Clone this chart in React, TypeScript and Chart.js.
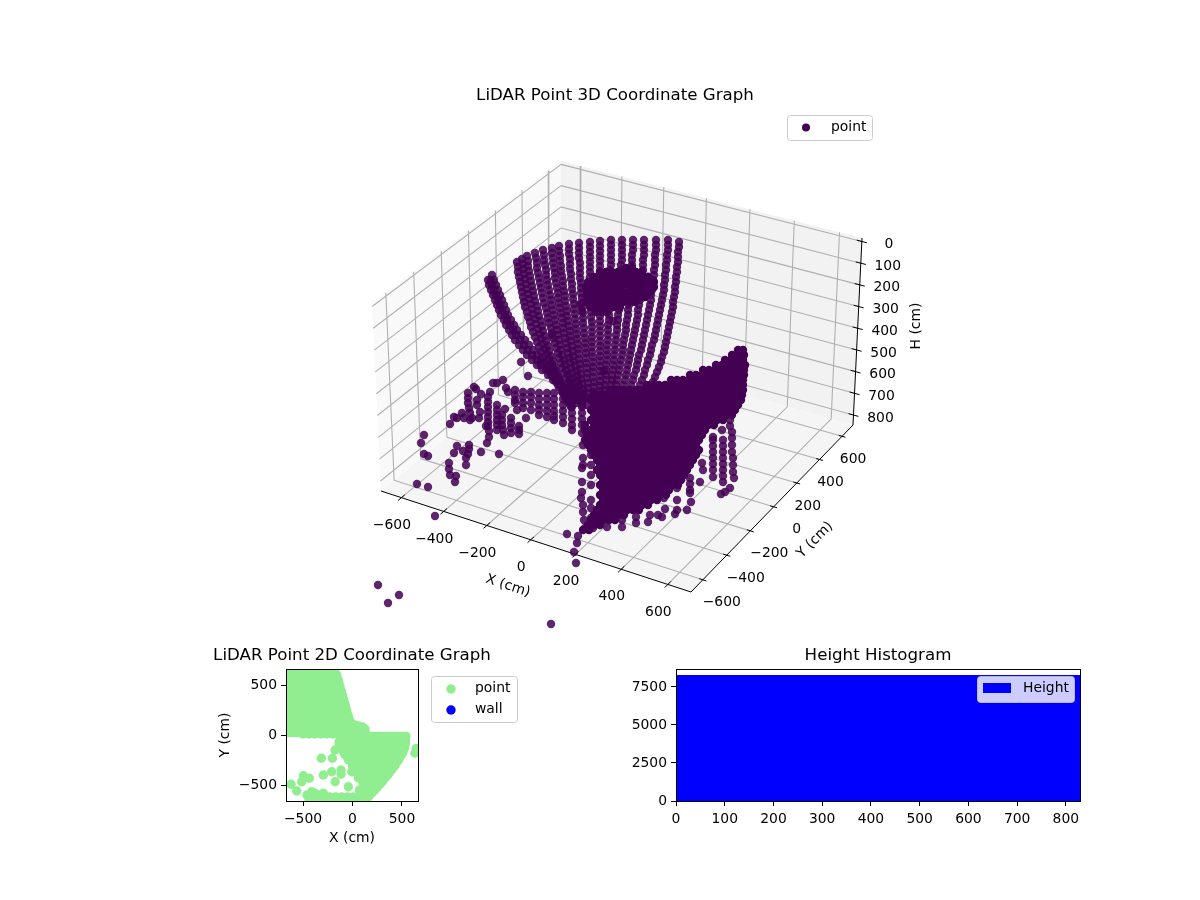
import React, { useEffect, useRef } from "react";
import { Chart, registerables } from "chart.js";

Chart.register(...registerables);

/* Chart.js has no 3D scale. The box, grid and ticks below are projected from their X / Y / H values.
   The 3D scatter marks can only be read off the picture as projected positions, so they are stored
   as projected values on the flat "view plane" scale (viewU, viewV). */

const FONT = "'DejaVu Sans'";
const PURPLE = "#440154";

const titleMain = "LiDAR Point 3D Coordinate Graph";
const title2D = "LiDAR Point 2D Coordinate Graph";
const titleHist = "Height Histogram";

const tickXY3D = [-600, -400, -200, 0, 200, 400, 600];
const tickH3D = [0, 100, 200, 300, 400, 500, 600, 700, 800];
const limXY = [-698, 698];
const limH = [-16, 846];

// projected readings: [first row, u at each following row]; rows are 5 apart in v
const fanArcs: [number, number[]][] = [
  [242, [679,679,678,678,678,677,677,676,676,675,675,674,673,673,672,671,670,669,668,667,666,665,664,662,661,659,657,655,653,651,649,647]],
  [240, [668,668,668,667,667,666,666,665,665,664,664,663,662,661,660,659,658,657,656,655,654,652,651,650,648,647,645,644,642,640,638,636]],
  [240, [656,656,656,655,655,655,654,654,653,653,652,651,651,650,649,648,647,646,645,644,643,642,641,639,638,637,636,634,633,631,629,627]],
  [240, [644,644,644,644,643,643,643,642,642,641,641,640,640,639,638,638,637,636,635,634,633,632,631,630,629,628,627,626,625,623,622,620]],
  [240, [633,633,633,632,632,632,632,631,631,631,630,630,629,629,628,628,627,626,626,625,624,623,623,622,621,620,619,618,617,616,615,613]],
  [240, [622,622,622,622,622,621,621,621,621,620,620,620,619,619,619,618,618,617,617,616,616,615,615,614,614,613,613,612,612,611,610,610]],
  [240, [611,611,611,611,611,611,610,610,610,610,610,610,609,609,609,609,609,608,608,608,608,607,607,607,607,606,606,606,606,605,605,605]],
  [241, [600,600,600,600,600,600,600,600,600,600,600,600,600,600,600,600,600,600,600,600,600,600,600,600,600,600,600,600,600,600,600,600]],
  [242, [590,590,590,590,590,590,590,590,591,591,591,591,591,591,591,591,592,592,592,592,592,592,592,593,593,593,593,593,594,594,594,594]],
  [243, [579,579,579,579,580,580,580,580,581,581,581,582,582,582,583,583,583,584,584,585,585,585,586,586,586,587,587,587,588,588,589,589]],
  [244, [569,569,569,570,570,570,571,571,572,572,573,573,574,574,575,575,576,576,577,577,578,578,579,579,580,580,581,581,582,583,583,584]],
  [246, [559,559,560,560,561,561,562,563,563,564,565,565,566,567,567,568,569,570,570,571,572,573,573,574,575,576,577,578,579,580,581]],
  [248, [552,552,553,553,554,555,555,556,557,558,558,559,560,561,562,563,563,564,565,566,567,568,569,570,571,572,573,574,575,576,578]],
  [250, [543,544,544,545,546,546,547,548,549,550,551,552,553,554,555,556,557,558,559,560,561,562,564,565,566,568,570,571,573,575,577]],
  [253, [535,536,537,537,538,539,540,541,542,543,544,546,547,548,549,551,552,553,555,556,558,559,561,562,564,566,568,570,572,574,576]],
  [256, [527,528,528,529,530,531,532,533,534,535,537,538,539,541,542,543,545,546,548,549,551,553,554,556,558,560,562,564,566,569,571]],
  [259, [522,523,523,524,525,526,527,528,529,531,532,533,535,536,538,540,541,543,545,547,549,552,554,556,559,561,564,567,570]],
  [262, [517,518,518,519,520,521,522,523,524,525,527,528,530,531,533,535,537,539,541,543,545,548,550,553,556,559,562,565,568,571]],
  [280, [488,489,491,493,495,497,499,501,504,506,509,512,515,519,523,527,532,537,542,548,553,558,564,570,576,582]],
  [280, [491,492,494,496,498,500,502,505,507,510,513,516,520,524,528,532,537,541,546,551,556,561,567,573,579]],
  [275, [492,494,496,498,500,502,504,506,508,511,514,517,521,525,529,533,537,541,545,549,553,558,563,569,575,581,587]],
];

const blobRows: [number, number[]][] = [
  [268, [626,632]],
  [272, [600,606,612,618,624,630,636,642]],
  [277, [594,600,606,612,618,624,630,636,642,648]],
  [282, [588,594,600,606,612,618,624,630,636,642,648,654]],
  [287, [586,592,598,604,610,616,622,630,636,642,648,654]],
  [292, [587,593,599,605,611,617,623,629,635,641,647,650]],
  [297, [587,593,599,605,611,617,623,629,635,641,645]],
  [302, [587,593,599,605,611,617,623,629,635]],
  [307, [590,596,602,608,614,620]],
  [312, [596,602,607]],
];

const surfaceRows: [number, number[]][] = [
  [350, [738,743]],
  [355, [732,738,744]],
  [360, [725,731,737,743]],
  [365, [716,722,728,734,740,745]],
  [370, [703,709,715,721,727,733,739,744]],
  [375, [690,696,702,708,714,720,726,732,738,744]],
  [380, [671,677,683,689,695,701,707,713,719,725,731,737,743]],
  [385, [647,653,659,665,671,677,683,689,695,701,707,713,719,725,731,737,743]],
  [390, [612,618,624,630,636,642,648,654,660,666,672,678,684,690,696,702,708,714,720,726,732,738,743]],
  [395, [594,600,606,612,618,624,630,636,642,648,654,660,666,672,678,684,690,696,702,708,714,720,726,732,738,742]],
  [400, [591,597,603,609,615,621,627,633,639,645,651,657,663,669,675,681,687,693,699,705,711,717,723,729,735,741]],
  [405, [594,600,606,612,618,624,630,636,642,648,654,660,666,672,678,684,690,696,702,708,714,720,726,732,738]],
  [410, [591,597,603,609,615,621,627,633,639,645,651,657,663,669,675,681,687,693,699,705,711,717,723,729,735]],
  [415, [594,600,606,612,618,624,630,636,642,648,654,660,666,672,678,684,690,696,702,708,714,720,726,732]],
  [420, [591,597,603,609,615,621,627,633,639,645,651,657,663,669,675,681,687,693,699,705,711,717,723]],
  [425, [585,594,600,606,612,618,624,630,636,642,648,654,660,666,672,678,684,690,696,702,708,714]],
  [430, [585,591,597,603,609,615,621,627,633,639,645,651,657,663,669,675,681,687,693,699,705]],
  [435, [587,594,600,606,612,618,624,630,636,642,648,654,660,666,672,678,684,690,696,702]],
  [440, [585,591,597,603,609,615,621,627,633,639,645,651,657,663,669,675,681,687,693,699]],
  [445, [588,594,600,606,612,618,624,630,636,642,648,654,660,666,672,678,684,690,696]],
  [450, [591,597,603,609,615,621,627,633,639,645,651,657,663,669,675,681,687,693,699]],
  [455, [594,600,606,612,618,624,630,636,642,648,654,660,666,672,678,684,690,696]],
  [460, [597,603,609,615,621,627,633,639,645,651,657,663,669,675,681,687,693]],
  [465, [600,606,612,618,624,630,636,642,648,654,660,666,672,678,684,690]],
  [470, [597,603,609,615,621,627,633,639,645,651,657,663,669,675,681,687]],
  [475, [600,606,612,618,624,630,636,642,648,654,660,666,672,678,684]],
  [480, [603,609,615,621,627,633,639,645,651,657,663,669,675,681]],
  [485, [600,606,612,618,624,630,636,642,648,654,660,666,672,678]],
  [490, [603,609,615,621,627,633,639,645,651,657,663,669]],
  [495, [600,606,612,618,624,630,636,642,648,654,660,666]],
  [500, [603,609,615,621,627,633,639,645,651,657]],
  [505, [600,606,612,618,624,630,636,642,648]],
  [510, [597,603,609,615,621,627,633,639]],
  [515, [594,600,606,612,618,624]],
  [520, [591,597,603,609,615]],
  [525, [588,594,600]],
  [530, [583,589]],
];

const viewColumnsRight: [number, number][] = [
  [732,432],[732,438],[732,445],[732,452],[733,458],[733,465],[733,472],[734,478],[730,488],[725,492],[721,494],
  [723,440],[723,446],[723,452],[723,458],[723,464],[723,470],[723,476],[723,482],
  [713,440],[713,446],[713,452],[713,458],[713,464],[713,470],[713,477],
  [702,463],[703,470],[700,482],[690,478],[690,484],[690,490],[690,493],
  [677,488],[677,500],[677,510],[675,514],[691,502],[687,510],
  [664,498],[665,509],[662,517],[658,515],[650,515],[648,522],[636,517],[636,523],[622,520],[622,527],[607,527],[593,528],
  [730,420],[730,426],[722,430],[713,437],
];

const viewColumnsFront: [number, number][] = [
  [567,534],[578,536],[577,543],[574,552],[576,563],
  [582,482],[582,492],[581,498],[583,505],[583,512],[584,520],[585,528],
  [583,445],[583,458],[583,465],[582,468],[591,500],[591,508],[591,518],
  [591,455],[591,465],[591,475],[591,485],[600,515],
];

const viewRidge: [number, number][] = [
  [506,388],[508,392],[515,390],[515,395],[515,400],[515,403],[523,392],[523,397],[523,403],[523,408],
  [531,392],[531,397],[531,403],[531,410],[539,393],[539,399],[539,405],[539,410],[539,415],
  [547,393],[547,399],[547,405],[547,411],[547,417],[554,393],[554,399],[554,405],[554,411],[554,416],[554,420],
  [563,393],[563,399],[563,405],[563,411],[563,417],[563,423],[572,395],[572,401],[572,407],[572,413],[572,419],[572,425],[572,430],
  [582,395],[582,401],[582,407],[582,413],[582,419],[582,425],[582,433],
];

const viewScatterUpper: [number, number][] = [
  [521,362],[528,376],[503,380],[493,383],[497,383],[474,387],[468,393],[468,398],[468,403],[469,408],[470,413],[472,418],
  [476,389],[481,394],[477,400],[477,405],[480,412],[479,418],[490,392],[488,397],[488,402],[488,407],[488,412],[488,417],
  [488,422],[488,426],[486,426],[489,431],[489,437],[487,443],[497,405],[505,409],[517,410],[526,418],[497,410],[497,415],
  [497,420],[497,425],[497,430],[502,415],[502,420],[502,425],[503,430],[504,435],[511,418],[511,423],[511,428],[511,433],
  [519,426],[519,430],[519,434],[462,413],[457,418],[454,417],[450,424],[464,418],[470,420],
  [552,335],[613,321],[604,371],[580,304],[582,311],
];

const viewScatterLower: [number, number][] = [
  [424,435],[421,443],[424,454],[428,456],[457,446],[454,453],[469,445],[463,451],[469,449],[468,454],[466,458],[466,465],
  [449,463],[449,469],[450,475],[456,476],[455,482],[481,452],[499,454],[417,484],[428,487],[435,516],
  [378,585],[399,595],[388,603],[551,624],
];

// 2D footprint, cm: [Y, X values]
const footprintRows: [number, number[]][] = [
  [660, [-640,-580,-520,-460,-400,-340,-280,-220,-176]],
  [600, [-650,-590,-530,-470,-410,-350,-290,-230,-159]],
  [540, [-650,-590,-530,-470,-410,-350,-290,-230,-170,-142]],
  [480, [-650,-590,-530,-470,-410,-350,-290,-230,-170,-125]],
  [420, [-650,-590,-530,-470,-410,-350,-290,-230,-170,-108]],
  [360, [-650,-590,-530,-470,-410,-350,-290,-230,-170,-110,-91]],
  [300, [-650,-590,-530,-470,-410,-350,-290,-230,-170,-110,-74]],
  [240, [-650,-590,-530,-470,-410,-350,-290,-230,-170,-110,-57]],
  [180, [-650,-590,-530,-470,-410,-350,-290,-230,-170,-110,-50,-40]],
  [120, [-650,-590,-530,-470,-410,-350,-290,-230,-170,-110,-50,-23]],
  [80, [-650,-590,-530,-470,-410,-350,-290,-230,-170,-110,-50,0,50,100]],
  [25, [-650,-620,-590,-560,-530,-500,-470,-440,-410,-380,-350,-320,-290,-260,-230,-200,-170,-110,-50,10,70,130]],
  [10, [-500,-440,-380,-320,-260,-200,-150]],
  [-14, [-130,-70,-10,50,110,140,170,200,230,260,290,320,350,380,410,440,470,500,535]],
  [-70, [-130,-70,-10,50,110,170,230,290,350,410,470,535]],
  [-130, [-129,-70,-10,50,110,170,230,290,350,410,470,524]],
  [-190, [-80,-20,40,100,160,220,280,340,400,460,500]],
  [-250, [-40,20,80,140,200,260,320,380,440,465]],
  [-310, [0,60,120,180,240,300,360,420]],
  [-370, [30,90,150,210,270,330,378]],
  [-430, [60,120,180,240,300,330]],
  [-490, [110,170,230,280]],
  [-550, [70,130,190,225]],
  [-600, [-460,-420,-380,-340,-300]],
  [-620, [-290,-230,-170,-110,-50,10,70,130,160]],
  [-640, [-440,-400,-360,-320,-280,-240,-200,-160,-120,-80,-40,0,40,80,120]],
];

const footprintEdge: [number, number][] = [
  [540,-14],[536,-50],[534,-90],[524,-130],[510,-170],[490,-205],[470,-240],[447,-275],[425,-310],[402,-340],
  [355,-400],[305,-462],[252,-522],[200,-575],[175,-600],[125,-650],
  [-135,-70],[-135,-110],[-90,-170],[-60,-210],[-25,-255],[10,-300],[40,-340],[60,-380],[75,-420],[100,-460],[115,-500],
  [-148,560],[-137,520],[-114,440],[-103,400],[-80,320],[-69,280],[-46,200],[-34,160],
  [0,110],[30,95],[60,90],[125,60],
];

const footprintScatter: [number, number][] = [
  [-315,-233],[-203,-233],[-176,-150],[-294,-400],[-210,-367],[-116,-350],[-116,-393],[-8,-367],
  [-496,-407],[-513,-467],[-436,-433],[-621,-493],[-564,-560],[-176,-467],[-42,-517],[-412,-567],
  [-446,-607],[-378,-583],[-294,-583],[76,-600],[642,-135],[630,-180],
];

const tick2D = [-500, 0, 500];
const histTickX = [0, 100, 200, 300, 400, 500, 600, 700, 800];
const histTickY = [0, 2500, 5000, 7500];
const histBins = [10,30,50,70,90,110,130,150,170,190,210,230,250,270,290,310,330,350,370,390,410,430,450,470,490,510,530,550,570,590,610,630,650,670,690,710,730,750,770,790,810,830];
const histCounts = [8224,8224,8224,8224,8224,8224,8224,8224,8224,8224,8224,8224,8224,8224,8224,8224,8224,8224,8224,8224,8224,8224,8224,8224,8224,8224,8224,8224,8224,8224,8224,8224,8224,8224,8224,8224,8224,8224,8224,8224,8224,8224];

type P = { x: number; y: number };
const rowsToPoints = (rows: [number, number[]][]): P[] =>
  rows.flatMap(([y, xs]) => xs.map((x) => ({ x, y })));
const pairs = (a: [number, number][]): P[] => a.map(([x, y]) => ({ x, y }));

const viewPoints: P[] = [
  ...fanArcs.flatMap(([top, us]) => us.map((x, i) => ({ x, y: top + i * 5 }))),
  ...pairs(viewColumnsRight),
  ...pairs(viewColumnsFront),
  ...pairs(viewRidge),
  ...pairs(viewScatterUpper),
  ...pairs(viewScatterLower),
];
const viewDensePoints: P[] = [...rowsToPoints(blobRows), ...rowsToPoints(surfaceRows)];

// box corners on the view plane, [xi][yi][hi]: hi 0 = top of H range, 1 = bottom
const CORNERS: [number, number][][][] = [
  [[[372, 303], [381, 491]], [[561, 161], [561, 344]]],
  [[[682, 392], [691, 592]], [[862, 238], [853, 425]]],
];
const persp = (t: number, k: number) => t / (t + (1 - t) * k);
function project(x: number, y: number, h: number): P {
  const tx = persp((x - limXY[0]) / (limXY[1] - limXY[0]), 1.07);
  const ty = persp((y - limXY[0]) / (limXY[1] - limXY[0]), 0.96);
  const tz = (h - limH[0]) / (limH[1] - limH[0]);
  let u = 0, v = 0;
  for (let i = 0; i < 2; i++) for (let j = 0; j < 2; j++) for (let k = 0; k < 2; k++) {
    const w = (i ? tx : 1 - tx) * (j ? ty : 1 - ty) * (k ? tz : 1 - tz);
    u += w * CORNERS[i][j][k][0];
    v += w * CORNERS[i][j][k][1];
  }
  return { x: u, y: v };
}

const BREAK = { x: NaN, y: NaN };
const [xMin, xMax] = limXY;
const [yMin, yMax] = limXY;
const [hTop, hBot] = limH;

function gridPoints(): P[] {
  const out: P[] = [];
  const seg = (a: P, b: P) => out.push(a, b, BREAK);
  for (const t of tickXY3D) {
    seg(project(xMin, t, hTop), project(xMin, t, hBot));
    seg(project(xMin, t, hBot), project(xMax, t, hBot));
    seg(project(t, yMax, hTop), project(t, yMax, hBot));
    seg(project(t, yMin, hBot), project(t, yMax, hBot));
  }
  for (const h of tickH3D) {
    seg(project(xMin, yMin, h), project(xMin, yMax, h));
    seg(project(xMin, yMax, h), project(xMax, yMax, h));
  }
  return out;
}

function axisPoints(): P[] {
  const out: P[] = [];
  const seg = (a: P, b: P) => out.push(a, b, BREAK);
  seg(project(xMin, yMin, hBot), project(xMax, yMin, hBot));
  seg(project(xMax, yMin, hBot), project(xMax, yMax, hBot));
  seg(project(xMax, yMax, hBot), project(xMax, yMax, hTop));
  for (const t of tickXY3D) {
    seg(project(t, yMin - 25, hBot), project(t, yMin + 25, hBot));
    seg(project(xMax - 15, t, hBot), project(xMax + 15, t, hBot));
  }
  for (const h of tickH3D) seg(project(xMax - 22, yMax, h), project(xMax + 22, yMax, h));
  return out;
}

const minus = (v: number) => String(v).replace("-", "\u2212");

function legendBox(
  ctx: CanvasRenderingContext2D, x: number, y: number, w: number, h: number,
  bg: string, stroke: string
) {
  ctx.beginPath();
  ctx.roundRect(x + 0.5, y + 0.5, w, h, 3);
  ctx.fillStyle = bg;
  ctx.fill();
  ctx.strokeStyle = stroke;
  ctx.lineWidth = 1;
  ctx.stroke();
}

function legendText(ctx: CanvasRenderingContext2D, t: string, x: number, y: number) {
  ctx.font = `13.9px ${FONT}`;
  ctx.fillStyle = "#000";
  ctx.textAlign = "left";
  ctx.textBaseline = "middle";
  ctx.fillText(t, x, y);
}

const framePlugin = {
  id: "frame",
  afterDraw(chart: any) {
    const { left, top, right, bottom } = chart.chartArea;
    const c = chart.ctx;
    c.save();
    c.strokeStyle = "#000";
    c.lineWidth = 1;
    c.strokeRect(left + 0.5, top + 0.5, right - left, bottom - top);
    c.restore();
  },
};

const areaTitle = (text: string) => ({
  id: "areaTitle",
  afterDraw(chart: any) {
    const { left, right, top } = chart.chartArea;
    const c = chart.ctx;
    c.save();
    c.font = `16.67px ${FONT}`;
    c.fillStyle = "#000";
    c.textAlign = "center";
    c.textBaseline = "middle";
    c.fillText(text, (left + right) / 2, top - 13);
    c.restore();
  },
});

const fixedTicks = (values: number[]) => (scale: any) => {
  scale.ticks = values.map((value) => ({ value }));
};
const fitX = (height: number) => (scale: any) => {
  scale.height = height;
  scale.paddingLeft = scale.paddingRight = 0;
};
const fitY = (width: number) => (scale: any) => {
  scale.width = width;
  scale.paddingTop = scale.paddingBottom = 0;
};
const tickOpts = {
  autoSkip: false,
  maxRotation: 0,
  minRotation: 0,
  padding: 4,
  color: "#000",
  font: { family: FONT, size: 13.9 },
  callback: (v: any) => minus(Number(v)),
};
const tickOptsX = { ...tickOpts, padding: 5 };
const gridOpts = { drawOnChartArea: false, drawTicks: true, tickLength: 5, tickColor: "#000", tickWidth: 1 };

const panePlugin = {
  id: "panes",
  beforeDatasetsDraw(chart: any) {
    const c = chart.ctx;
    const sx = chart.scales.x, sy = chart.scales.y;
    const poly = (pts: P[], fill: string) => {
      c.beginPath();
      pts.forEach((p, i) => {
        const X = sx.getPixelForValue(p.x), Y = sy.getPixelForValue(p.y);
        if (i) c.lineTo(X, Y); else c.moveTo(X, Y);
      });
      c.closePath();
      c.fillStyle = fill;
      c.fill();
    };
    poly([project(xMin, yMin, hTop), project(xMin, yMax, hTop), project(xMin, yMax, hBot), project(xMin, yMin, hBot)], "#f9f9f9");
    poly([project(xMin, yMax, hTop), project(xMax, yMax, hTop), project(xMax, yMax, hBot), project(xMin, yMax, hBot)], "#f2f2f2");
    poly([project(xMin, yMin, hBot), project(xMin, yMax, hBot), project(xMax, yMax, hBot), project(xMax, yMin, hBot)], "#f5f5f5");
  },
};

const labels3DPlugin = {
  id: "labels3d",
  afterDraw(chart: any) {
    const c = chart.ctx;
    const sx = chart.scales.x, sy = chart.scales.y;
    const text = (t: string, u: number, v: number, rot = 0) => {
      c.save();
      c.translate(sx.getPixelForValue(u), sy.getPixelForValue(v));
      c.rotate((rot * Math.PI) / 180);
      c.font = `13.9px ${FONT}`;
      c.fillStyle = "#000";
      c.textAlign = "center";
      c.textBaseline = "middle";
      c.fillText(t, 0, 0);
      c.restore();
    };
    for (const t of tickXY3D) {
      const p = project(t, yMin, hBot);
      text(minus(t), p.x - 9.5, p.y + 27.5);
      const q = project(xMax, t, hBot);
      const off = t < 0 ? 19 : t === 0 ? 23 : 11;
      text(minus(t), q.x + off, q.y + 23);
    }
    for (const h of tickH3D) {
      const p = project(xMax, yMax, h);
      text(String(h), p.x + 27, p.y + 3);
    }
    text("X (cm)", 508, 586, 18);
    text("Y (cm)", 815, 540, -45);
    text("H (cm)", 916, 326, -90);

    const ox = sx.getPixelForValue(787), oy = sy.getPixelForValue(115);
    legendBox(c, ox, oy, 85, 25, "#fff", "#ccc");
    c.beginPath();
    c.arc(sx.getPixelForValue(806), sy.getPixelForValue(127.5), 4, 0, Math.PI * 2);
    c.fillStyle = PURPLE;
    c.fill();
    legendText(c, "point", sx.getPixelForValue(831), sy.getPixelForValue(127));
  },
};

const legend2DPlugin = {
  id: "legend2d",
  afterDraw(chart: any) {
    const c = chart.ctx;
    const ox = 170, oy = 640;
    legendBox(c, 431 - ox, 676 - oy, 86, 46, "#fff", "#ccc");
    c.beginPath(); c.arc(451 - ox, 689 - oy, 4.7, 0, Math.PI * 2); c.fillStyle = "lightgreen"; c.fill();
    c.beginPath(); c.arc(451 - ox, 710 - oy, 4.7, 0, Math.PI * 2); c.fillStyle = "blue"; c.fill();
    legendText(c, "point", 475 - ox, 688 - oy);
    legendText(c, "wall", 475 - ox, 709 - oy);
  },
};

const legendHistPlugin = {
  id: "legendHist",
  afterDraw(chart: any) {
    const c = chart.ctx;
    const ox = 620, oy = 640;
    legendBox(c, 977 - ox, 676 - oy, 97, 26, "rgba(255,255,255,0.8)", "rgba(204,204,204,0.8)");
    c.fillStyle = "blue";
    c.fillRect(983 - ox, 683 - oy, 28, 10);
    legendText(c, "Height", 1023 - ox, 688 - oy);
  },
};

const canvasStyle = (left: number, top: number, w: number, h: number): React.CSSProperties => ({
  position: "absolute", left, top, width: w, height: h, display: "block",
});

export default function App() {
  const main = useRef<HTMLCanvasElement>(null);
  const flat = useRef<HTMLCanvasElement>(null);
  const hist = useRef<HTMLCanvasElement>(null);

  useEffect(() => {
    const base = { responsive: false, animation: false as const, devicePixelRatio: 1, events: [] as any[] };

    const c1 = new Chart(main.current!, {
      type: "scatter",
      data: {
        datasets: [
          { label: "point", data: viewDensePoints, pointRadius: 4.2, pointBorderWidth: 0, pointBackgroundColor: PURPLE, clip: false } as any,
          { label: "point", data: viewPoints, pointRadius: 4.2, pointBorderWidth: 0, pointBackgroundColor: "rgba(68,1,84,0.86)", clip: false } as any,
          { label: "axes", data: axisPoints(), showLine: true, pointRadius: 0, borderColor: "#000", borderWidth: 1, spanGaps: false, clip: false } as any,
          { label: "grid", data: gridPoints(), showLine: true, pointRadius: 0, borderColor: "#b0b0b0", borderWidth: 1.1, spanGaps: false, clip: false } as any,
        ],
      },
      options: {
        ...base,
        layout: { padding: 0, autoPadding: false },
        plugins: {
          legend: { display: false }, tooltip: { enabled: false },
          title: {
            display: true, text: titleMain, color: "#000",
            font: { family: FONT, size: 16.67, weight: "normal" as const, lineHeight: 1.2 },
            padding: { top: 86, bottom: 4 },
          },
        },
        scales: {
          x: { type: "linear", display: false, min: 30, max: 1200 },
          y: { type: "linear", display: false, min: 110, max: 640, reverse: true },
        },
      },
      plugins: [panePlugin, labels3DPlugin],
    });

    const c2 = new Chart(flat.current!, {
      type: "scatter",
      data: {
        datasets: [
          { label: "point", data: [...rowsToPoints(footprintRows), ...pairs(footprintEdge), ...pairs(footprintScatter)], pointRadius: 4.7, pointBorderWidth: 0, pointBackgroundColor: "lightgreen" } as any,
          { label: "wall", data: [], pointRadius: 4.7, pointBackgroundColor: "blue" } as any,
        ],
      },
      options: {
        ...base,
        layout: { padding: { left: 45, right: 116, top: 29, bottom: 1 }, autoPadding: false },
        plugins: { legend: { display: false }, tooltip: { enabled: false } },
        scales: {
          x: {
            type: "linear", min: -672, max: 662, afterBuildTicks: fixedTicks(tick2D), afterFit: fitX(48),
            ticks: tickOptsX, grid: gridOpts, border: { display: false },
            title: { display: true, text: "X (cm)", color: "#000", font: { family: FONT, size: 13.9 }, padding: { top: 0, bottom: 2 } },
          },
          y: {
            type: "linear", min: -660, max: 660, afterBuildTicks: fixedTicks(tick2D), afterFit: fitY(71),
            ticks: tickOpts, grid: gridOpts, border: { display: false },
            title: { display: true, text: "Y (cm)", color: "#000", font: { family: FONT, size: 13.9 }, padding: { top: 2, bottom: 0 } },
          },
        },
      } as any,
      plugins: [framePlugin, legend2DPlugin, areaTitle(title2D)],
    });

    const c3 = new Chart(hist.current!, {
      type: "bar",
      data: {
        datasets: [
          {
            label: "Height",
            data: histBins.map((x, i) => ({ x, y: histCounts[i] })),
            backgroundColor: "blue", borderWidth: 0, inflateAmount: 1, barPercentage: 1, categoryPercentage: 1,
          } as any,
        ],
      },
      options: {
        ...base,
        layout: { padding: { left: 0, right: 56, top: 29, bottom: 0 }, autoPadding: false },
        plugins: { legend: { display: false }, tooltip: { enabled: false } },
        scales: {
          x: {
            type: "linear", min: 0, max: 829, offset: false, afterBuildTicks: fixedTicks(histTickX), afterFit: fitX(29),
            ticks: tickOptsX, grid: { ...gridOpts, offset: false }, border: { display: false },
          },
          y: {
            type: "linear", min: 0, max: 8684, afterBuildTicks: fixedTicks(histTickY), afterFit: fitY(56),
            ticks: tickOpts, grid: gridOpts, border: { display: false },
          },
        },
      } as any,
      plugins: [framePlugin, legendHistPlugin, areaTitle(titleHist)],
    });

    return () => {
      c1.destroy();
      c2.destroy();
      c3.destroy();
    };
  }, []);

  return (
    <div style={{ position: "absolute", left: 0, top: 0, width: 1200, height: 900, background: "#fff", overflow: "hidden" }}>
      <canvas ref={main} width={1170} height={640} style={canvasStyle(30, 0, 1170, 640)} />
      <canvas ref={flat} width={364} height={210} style={canvasStyle(170, 640, 364, 210)} />
      <canvas ref={hist} width={516} height={190} style={canvasStyle(620, 640, 516, 190)} />
    </div>
  );
}
